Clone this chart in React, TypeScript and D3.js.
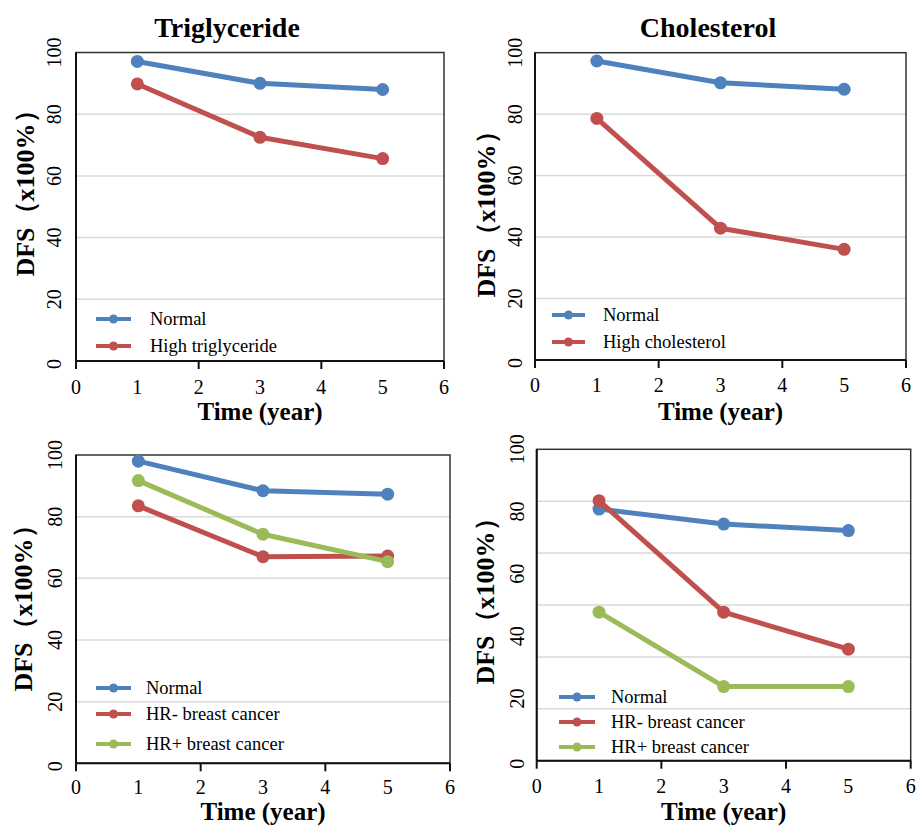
import React from 'react';
import * as d3 from 'd3';

// time points (years) shared by all panels
const years = [1, 3, 5];

// Triglyceride panel
const tgNormal = [97.1, 90.0, 88.0];
const tgHigh = [89.8, 72.5, 65.6];

// Cholesterol panel
const cholNormal = [97.3, 90.2, 88.1];
const cholHigh = [78.6, 42.9, 36.0];

// HR panel (bottom left)
const hrNormal = [98.0, 88.4, 87.3];
const hrNeg = [83.5, 67.0, 67.2];
const hrPos = [91.7, 74.3, 65.4];

// HR panel (bottom right)
const hr2Normal = [80.8, 76.0, 73.9];
const hr2Neg = [83.5, 47.7, 35.8];
const hr2Pos = [47.7, 23.8, 23.8];

const yTicks = [0, 20, 40, 60, 80, 100];
const xTicks = [0, 1, 2, 3, 4, 5, 6];
const xMajor = [0, 2, 4, 6];
const gridEvery20 = [20, 40, 60, 80];
const gridSixths = [1, 2, 3, 4, 5].map(i => (i * 100) / 6);

const BLUE = '#4f81bd';
const RED = '#c0504d';
const GREEN = '#9bbb59';
const serif = { fontFamily: "'Liberation Serif', 'Times New Roman', Times, 'DejaVu Serif', serif" };

type Series = { name: string; values: number[]; color: string };

type PanelProps = {
  title?: string;
  titleX?: number;
  box: { left: number; right: number; top: number; bottom: number };
  grid: number[];
  series: Series[];
  yTitle: { x: number; y: number };
  yLabelX: number;
  xLabelY: number;
  xTitleY: number;
  legend: { x0: number; x1: number; tx: number; ys: number[] };
};

const Panel = ({ title, titleX, box, grid, series, yTitle, yLabelX, xLabelY, xTitleY, legend }: PanelProps) => {
  const x = d3.scaleLinear().domain([0, 6]).range([box.left, box.right]);
  const y = d3.scaleLinear().domain([0, 100]).range([box.bottom, box.top]);
  const line = d3.line<[number, number]>()
    .x(d => x(d[0]))
    .y(d => y(d[1]));

  return (
    <g style={serif}>
      {title && (
        <text x={titleX} y={37} textAnchor="middle" fontWeight="bold" fontSize={28}>
          {title}
        </text>
      )}
      {grid.map(g => (
        <line key={g} x1={box.left} x2={box.right} y1={y(g)} y2={y(g)} stroke="#d9d9d9" strokeWidth={1.5} />
      ))}
      <rect x={box.left} y={box.top} width={box.right - box.left} height={box.bottom - box.top}
        fill="none" stroke="#333" strokeWidth={1.5} />
      <line x1={box.left} x2={box.right} y1={box.bottom} y2={box.bottom} stroke="#111" strokeWidth={2} />
      <line x1={box.left} x2={box.left} y1={box.top} y2={box.bottom} stroke="#111" strokeWidth={2} />
      {xMajor.map(t => (
        <line key={t} x1={x(t)} x2={x(t)} y1={box.bottom} y2={box.bottom + 8} stroke="#111" strokeWidth={2} />
      ))}
      {xTicks.map(t => (
        <text key={t} x={x(t)} y={xLabelY} textAnchor="middle" dominantBaseline="central" fontSize={20}>{t}</text>
      ))}
      {yTicks.map(t => (
        <text key={t} transform={`translate(${yLabelX},${y(t) + (t === 0 ? 3 : 0)}) rotate(-90)`}
          textAnchor="middle" dominantBaseline="central" fontSize={20}>{t}</text>
      ))}
      <text transform={`translate(${yTitle.x},${yTitle.y}) rotate(-90)`} textAnchor="middle"
        dominantBaseline="central" fontWeight="bold" fontSize={26}>
        DFS（x100%）
      </text>
      <text x={(box.left + box.right) / 2} y={xTitleY} textAnchor="middle"
        fontWeight="bold" fontSize={25}>Time (year)</text>

      {series.map(s => {
        const pts = years.map((yr, i) => [yr, s.values[i]] as [number, number]);
        return (
          <g key={s.name}>
            <path d={line(pts) ?? ''} fill="none" stroke={s.color} strokeWidth={5} strokeLinejoin="round" />
            {pts.map((p, i) => (
              <circle key={i} cx={x(p[0])} cy={y(p[1])} r={6.5} fill={s.color} />
            ))}
          </g>
        );
      })}

      {series.map((s, i) => (
        <g key={s.name}>
          <line x1={legend.x0} x2={legend.x1} y1={legend.ys[i]} y2={legend.ys[i]} stroke={s.color} strokeWidth={4} />
          <circle cx={(legend.x0 + legend.x1) / 2} cy={legend.ys[i]} r={4.5} fill={s.color} />
          <text x={legend.tx} y={legend.ys[i]} dominantBaseline="central" fontSize={18.5}>
            {s.name}
          </text>
        </g>
      ))}
    </g>
  );
};

export default function App() {
  return (
    <svg width={919} height={826} style={{ position: 'absolute', left: 0, top: 0, background: '#fff' }}>
      <rect width={919} height={826} fill="#fff" />
      <Panel
        title="Triglyceride"
        titleX={227}
        box={{ left: 76, right: 444, top: 52.5, bottom: 361 }}
        grid={gridEvery20}
        series={[
          { name: 'Normal', values: tgNormal, color: BLUE },
          { name: 'High triglyceride', values: tgHigh, color: RED },
        ]}
        yTitle={{ x: 25, y: 187 }}
        yLabelX={54}
        xLabelY={387}
        xTitleY={420}
        legend={{ x0: 96, x1: 131, tx: 150, ys: [319, 346] }}
      />
      <Panel
        title="Cholesterol"
        titleX={708}
        box={{ left: 535, right: 906, top: 52.7, bottom: 360 }}
        grid={gridEvery20}
        series={[
          { name: 'Normal', values: cholNormal, color: BLUE },
          { name: 'High cholesterol', values: cholHigh, color: RED },
        ]}
        yTitle={{ x: 486, y: 208 }}
        yLabelX={515}
        xLabelY={385}
        xTitleY={420}
        legend={{ x0: 552, x1: 585, tx: 603, ys: [315, 342] }}
      />
      <Panel
        box={{ left: 76, right: 450, top: 455, bottom: 763.3 }}
        grid={gridEvery20}
        series={[
          { name: 'Normal', values: hrNormal, color: BLUE },
          { name: 'HR- breast cancer', values: hrNeg, color: RED },
          { name: 'HR+ breast cancer', values: hrPos, color: GREEN },
        ]}
        yTitle={{ x: 23, y: 602 }}
        yLabelX={55}
        xLabelY={787}
        xTitleY={820}
        legend={{ x0: 96, x1: 131, tx: 146, ys: [688, 714, 744] }}
      />
      <Panel
        box={{ left: 536.7, right: 910.7, top: 449.3, bottom: 760.7 }}
        grid={gridSixths}
        series={[
          { name: 'Normal', values: hr2Normal, color: BLUE },
          { name: 'HR- breast cancer', values: hr2Neg, color: RED },
          { name: 'HR+ breast cancer', values: hr2Pos, color: GREEN },
        ]}
        yTitle={{ x: 485, y: 595 }}
        yLabelX={517}
        xLabelY={786}
        xTitleY={820}
        legend={{ x0: 559, x1: 595, tx: 611, ys: [697, 722, 747] }}
      />
    </svg>
  );
}
